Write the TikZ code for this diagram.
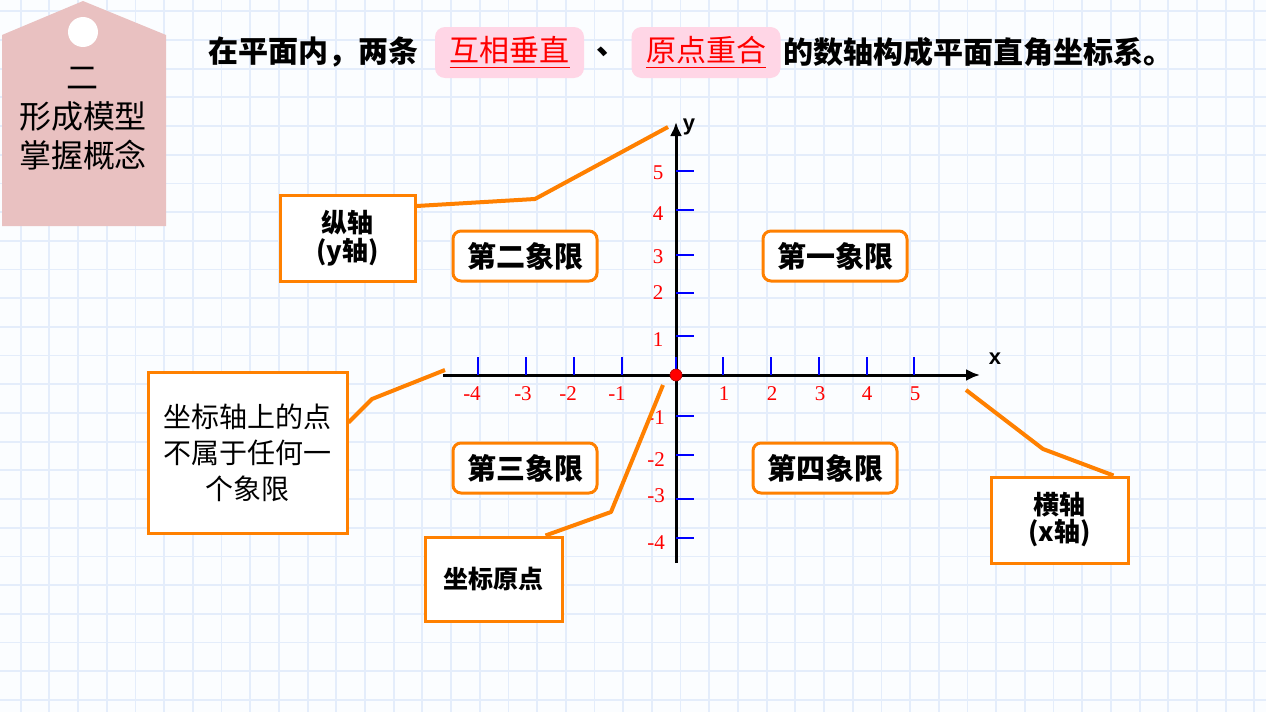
\documentclass[tikz,border=0pt]{standalone}
\usepackage{fontspec}
\setmainfont{Noto Sans CJK SC}
\newfontfamily\zahlfont{Liberation Serif}
\newfontfamily\achsfont{Liberation Sans}
\usetikzlibrary{arrows.meta}
\definecolor{hintergrund}{RGB}{251,253,255}
\definecolor{gitterblau}{RGB}{228,237,251}
\definecolor{etikett}{RGB}{233,193,193}
\definecolor{rosa}{RGB}{255,214,230}
\definecolor{orange}{RGB}{255,128,0}
\begin{document}
\begin{tikzpicture}[x=0.5pt,y=-0.5pt,
	gitter/.style={gitterblau, line width=0.9pt},
	quadrant/.style={draw=orange, line width=1.5pt, fill=white, rounded corners=4pt, minimum width=72pt, minimum height=25pt, inner sep=0pt, font=\fontsize{14.5}{16}\selectfont\bfseries},
	hinweis/.style={draw=orange, line width=1.5pt, fill=white, align=center, inner sep=0pt},
	zeiger/.style={orange, line width=2pt, line join=round},
	achse/.style={line width=1.5pt, -{Latex[length=7pt,width=6pt]}},
	strich/.style={blue, line width=1pt},
	zahl/.style={red, inner sep=0pt, font=\zahlfont\fontsize{10.5}{12}\selectfont},
	markiert/.style={fill=rosa, rounded corners=5pt, minimum width=74.5pt, minimum height=25.5pt, inner sep=0pt, text=red, font=\fontsize{15}{18}\selectfont},
	titel/.style={inner sep=0pt, font=\fontsize{15}{18}\selectfont\bfseries}]
	\useasboundingbox (0,0) rectangle (1266,712);
	\fill[hintergrund] (0,0) rectangle (1266,712);
	
	%Karopapier
	\foreach \i in {0,...,43} \draw[gitter] ({20.7+28.69*\i},0) -- ({20.7+28.69*\i},712);
	\foreach \j in {0,...,24} \draw[gitter] (0,{11.3+28.69*\j}) -- (1266,{11.3+28.69*\j});
	
	%Etikett links oben
	\fill[etikett] (2,35) -- (83,1) -- (166,35) -- (166,226) -- (2,226) -- cycle;
	\fill[white] (83,32) circle (7.5pt);
	\node[align=center, inner sep=0pt, font=\fontsize{16}{19.5}\selectfont] (etikett) at (83,119) {二\\形成模型\\掌握概念};
	
	%Ueberschrift
	\node[titel, anchor=west] (satzA) at (208,52) {在平面内，两条};
	\node[markiert] (senkrecht) at (509.5,52.5) {\underline{互相垂直}};
	\node[titel, anchor=west] (komma) at (596,52) {、};
	\node[markiert] (ursprung) at (706,52.5) {\underline{原点重合}};
	\node[titel, anchor=west] (satzB) at (783,52) {的数轴构成平面直角坐标系。};
	
	%Achsen
	\coordinate (xl) at (443,375);
	\coordinate (xr) at (980,375);
	\coordinate (yu) at (676,563);
	\coordinate (yo) at (676,122);
	\draw[achse] (xl) -- (xr);
	\draw[achse] (yu) -- (yo);
	\node[inner sep=0pt, font=\achsfont\fontsize{11}{12}\selectfont\bfseries] (xname) at (995,359) {x};
	\node[inner sep=0pt, font=\achsfont\fontsize{11}{12}\selectfont\bfseries] (yname) at (689,127) {y};
	
	%Teilstriche x
	\foreach \t/\l/\n in {478/472/-4, 526/523/-3, 574/568/-2, 622/617/-1, 723/724/1, 771/772/2, 819/820/3, 867/867/4, 914/915/5}{
		\draw[strich] (\t,375) -- (\t,357);
		\node[zahl] at (\l,394) {\n};
	}
	\draw[strich] (676,375) -- (676,357);
	%Teilstriche y
	\foreach \t/\l/\n in {171/173/5, 210/214/4, 255/257/3, 293/293/2, 336/340/1, 416/418/-1, 455/460/-2, 499/496/-3, 538/543/-4}{
		\draw[strich] (676,\t) -- (694,\t);
		\node[zahl, anchor=center] at ({\n<0 ? 656 : 658},\l) {\n};
	}
	\node[circle, fill=red, draw=red!70!black, line width=0.3pt, minimum size=6pt, inner sep=0pt] (O) at (676,375) {};
	
	%Quadranten
	\node[quadrant] (q1) at (835,256) {第一象限};
	\node[quadrant] (q2) at (525,256) {第二象限};
	\node[quadrant] (q3) at (525,468) {第三象限};
	\node[quadrant] (q4) at (825,468) {第四象限};
	
	%Hinweise
	\node[hinweis, minimum width=67.5pt, minimum height=43pt, font=\fontsize{13}{14}\selectfont\bfseries] (ykasten) at (347.5,238) {纵轴\\(y轴)};
	\node[hinweis, minimum width=99.5pt, minimum height=80.5pt, font=\fontsize{14}{18}\selectfont] (punktkasten) at (247.5,452.5) {坐标轴上的点\\不属于任何一\\个象限};
	\node[hinweis, minimum width=68.5pt, minimum height=42pt, font=\fontsize{12.5}{14}\selectfont\bfseries] (okasten) at (493.5,579) {坐标原点};
	\node[hinweis, minimum width=68.5pt, minimum height=43pt, font=\fontsize{13}{13.5}\selectfont\bfseries] (xkasten) at (1059.5,520) {横轴\\(x轴)};
	
	\coordinate (yknick) at (535,199);
	\coordinate (yspitze) at (668,127);
	\coordinate (pknick) at (372,399);
	\coordinate (pspitze) at (445,370);
	\coordinate (oknick) at (611,512);
	\coordinate (ospitze) at (663,385);
	\coordinate (xspitze) at (966,390);
	\coordinate (xknick) at (1043,449);
	\draw[zeiger] ([yshift=16pt]ykasten.east) -- (yknick) -- (yspitze);
	\draw[zeiger] ([yshift=15pt]punktkasten.east) -- (pknick) -- (pspitze);
	\draw[zeiger] ([xshift=26pt]okasten.north) -- (oknick) -- (ospitze);
	\draw[zeiger] (xspitze) -- (xknick) -- ([xshift=27pt]xkasten.north);
\end{tikzpicture}
\end{document}
